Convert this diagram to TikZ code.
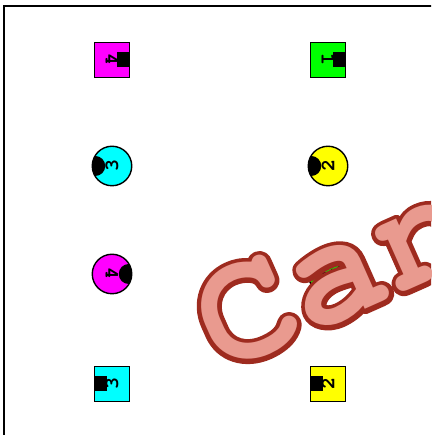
\documentclass[tikz,border=0pt]{standalone}
\usepackage[T1]{fontenc}
\usepackage{xcolor}
\usepackage{tikz}
\definecolor{tagmagenta}{HTML}{FF00FF}
\definecolor{taggreen}{HTML}{00FF00}
\definecolor{tagcyan}{HTML}{00FFFF}
\definecolor{tagyellow}{HTML}{FFFF00}
\definecolor{stampfill}{HTML}{E99A8F}
\definecolor{stampline}{HTML}{9E2B1F}
\newcommand{\tagfont}{\fontfamily{pcr}\fontseries{b}\fontsize{20}{20}\selectfont}
\newcommand{\stampfont}{\fontfamily{pcr}\fontseries{b}\fontsize{160}{160}\selectfont}
% outline rim, then the lighter body on top of it
\newcommand{\stamprim}{\special{pdf:literal direct 2 Tr 1 j 0.62 0.17 0.12 rg 0.62 0.17 0.12 RG 9 w}}
\newcommand{\stampbody}{\special{pdf:literal direct 0 Tr 0.914 0.604 0.561 rg}}
\newcommand{\stampoff}{\special{pdf:literal direct 0 Tr}}

\begin{document}
\begin{tikzpicture}[
  x=1pt, y=1pt,
  sqtag/.style={draw, line width=1.4pt, minimum size=34.5pt, inner sep=0pt, font=\tagfont, rotate=#1},
  rdtag/.style={circle, draw, line width=1.4pt, minimum size=39.5pt, inner sep=0pt, font=\tagfont, rotate=#1},
  stamp/.style={font=\stampfont, text=stampfill, inner sep=0pt},
  frame/.style={line width=1.6pt}
]
\clip (0,0) rectangle (431,435);
\draw[frame] (4,-20) -- (4,429) -- (460,429);
% first column
\node[sqtag=-90, fill=tagmagenta] (sqa) at (112,375) {4};
\node[rdtag=90, fill=tagcyan] (rda) at (112,269) {3};
\node[rdtag=-90, fill=tagmagenta] (rdb) at (112,161) {4};
\node[sqtag=90, fill=tagcyan] (sqb) at (112,51) {3};
% second column
\node[sqtag=-90, fill=taggreen] (sqc) at (328,375) {1};
\node[rdtag=90, fill=tagyellow] (rdc) at (328,269) {2};
\node[rdtag=-90, fill=taggreen] (rdd) at (328,161) {1};
\node[sqtag=90, fill=tagyellow] (sqd) at (328,51) {2};
% black marks on the top side of each tag
\foreach \n/\a in {sqa/-90, sqb/90, sqc/-90, sqd/90}
  \fill[shift={(\n.center)}, rotate=\a] (-7.5,17.25) rectangle (7.5,5);
\foreach \n/\a in {rda/90, rdb/-90, rdc/90, rdd/-90}{
  \begin{scope}
    \clip (\n.center) circle (19.75);
    \fill[shift={(\n.center)}, rotate=\a] (0,16.75) circle (10);
  \end{scope}
}
% stamp over the grid
\node[stamp, rotate=24, anchor=base west] (word) at (221,61) {\stamprim\rlap{Can}\stampbody Can\stampoff};
\end{tikzpicture}
\end{document}
